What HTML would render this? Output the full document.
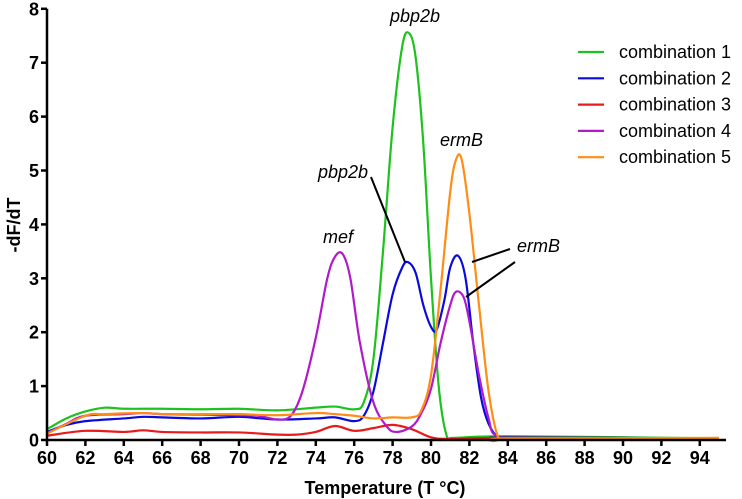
<!DOCTYPE html>
<html><head><meta charset="utf-8"><style>
html,body{margin:0;padding:0;background:#fff;}
svg{display:block;font-family:"Liberation Sans",Arial,sans-serif;}
</style></head><body>
<svg id="chart" width="742" height="499"></svg>
<script>
const xTicks=[60,62,64,66,68,70,72,74,76,78,80,82,84,86,88,90,92,94];
const yTicks=[0,1,2,3,4,5,6,7,8];
const seriesNames=["combination 1","combination 2","combination 3","combination 4","combination 5"];
const seriesColors=["#1ec21e","#0a0adc","#e81a1a","#b01ac8","#ff8c14"];
const t1=[60,61,62,63,64,66,68,70,72,74,75,76,76.5,77,77.5,78,78.5,78.85,79.2,79.6,80,80.4,80.8,81.2,84,95];
const v1=[0.2,0.4,0.53,0.6,0.58,0.58,0.57,0.58,0.55,0.6,0.62,0.57,0.7,1.5,3.5,5.8,7.3,7.55,7.1,5.5,3.0,1.0,0.1,0.04,0.07,0.03];
const t2=[60,61,62,64,65,66,68,70,72,74,75,76,76.5,77,77.5,78,78.5,78.8,79.2,79.6,80,80.3,80.7,81,81.4,81.8,82.2,82.6,83,83.5,84,95];
const v2=[0.15,0.28,0.35,0.4,0.43,0.42,0.4,0.43,0.38,0.4,0.42,0.35,0.45,0.9,1.8,2.7,3.2,3.3,3.1,2.5,2.1,2.05,2.6,3.2,3.42,3.0,1.8,0.8,0.3,0.05,0.05,0.03];
const t3=[60,62,64,65,66,68,70,72,73,74,75,76,77,78,79,80,81,84,95];
const v3=[0.08,0.17,0.15,0.18,0.15,0.14,0.14,0.1,0.1,0.15,0.26,0.17,0.22,0.28,0.2,0.05,0.02,0.04,0.03];
const t4=[60,61,62,64,65,66,68,70,71,72,72.7,73.3,74,74.6,75,75.4,75.8,76.3,77,77.7,78.2,79,79.5,80,80.5,81,81.3,81.7,82,82.5,83,83.4,85,95];
const v4=[0.12,0.3,0.45,0.48,0.5,0.48,0.47,0.46,0.45,0.38,0.45,0.9,1.9,3.0,3.4,3.45,3.0,1.8,0.7,0.25,0.15,0.25,0.5,0.95,1.8,2.5,2.75,2.65,2.2,1.2,0.4,0.08,0.02,0.03];
const t5=[60,62,63,65,66,68,70,72,74,75,76,77,78,79,79.5,80,80.5,81,81.3,81.6,82,82.5,83,83.5,84,95];
const v5=[0.12,0.45,0.48,0.5,0.48,0.48,0.48,0.46,0.5,0.48,0.45,0.4,0.42,0.42,0.55,1.2,2.8,4.6,5.2,5.2,4.2,2.5,0.9,0.05,0.03,0.04];
const seriesT=[t1,t2,t3,t4,t5];
const seriesV=[v1,v2,v3,v4,v5];

const NS="http://www.w3.org/2000/svg";
const svg=document.getElementById('chart');
const X0=47,Y0=440,PXT=19.2,PXV=53.9;
function sx(t){return X0+(t-60)*PXT;}
function sy(v){return Y0-v*PXV;}
function mk(tag,attrs,parent){const e=document.createElementNS(NS,tag);for(const k in attrs)e.setAttribute(k,attrs[k]);(parent||svg).appendChild(e);return e;}
function smooth(pts){let d="M"+pts[0][0]+","+pts[0][1];for(let i=0;i<pts.length-1;i++){const p0=pts[Math.max(0,i-1)],p1=pts[i],p2=pts[i+1],p3=pts[Math.min(pts.length-1,i+2)];const c1x=p1[0]+(p2[0]-p0[0])/6,c1y=p1[1]+(p2[1]-p0[1])/6,c2x=p2[0]-(p3[0]-p1[0])/6,c2y=p2[1]-(p3[1]-p1[1])/6;d+=" C"+c1x+","+c1y+" "+c2x+","+c2y+" "+p2[0]+","+p2[1];}return d;}

seriesT.forEach((ts,i)=>{
  const pts=ts.map((t,j)=>[sx(t),sy(seriesV[i][j])]);
  const p=mk('path',{d:smooth(pts),fill:'none',stroke:seriesColors[i],'stroke-width':2.2,'stroke-linejoin':'round'});
  
  
});
const ax=mk('path',{d:`M${X0},${sy(8)} V${Y0} H726`,fill:'none',stroke:'#000','stroke-width':2.5});


xTicks.forEach(t=>{
  mk('line',{x1:sx(t),x2:sx(t),y1:Y0,y2:Y0+6,stroke:'#000','stroke-width':2.5});
  const tx=mk('text',{x:sx(t),y:Y0+24,'text-anchor':'middle','font-size':18,'font-weight':'bold'});
  tx.textContent=t;
  
  
});
yTicks.forEach(v=>{
  mk('line',{x1:X0-6,x2:X0,y1:sy(v),y2:sy(v),stroke:'#000','stroke-width':2.5});
  const tx=mk('text',{x:X0-8,y:sy(v)+6.5,'text-anchor':'end','font-size':18,'font-weight':'bold'});
  tx.textContent=v;
  
  
});
const xt=mk('text',{x:385,y:494,'text-anchor':'middle','font-size':18,'font-weight':'bold'});
xt.textContent="Temperature (T °C)";


const yt=mk('text',{x:0,y:0,'text-anchor':'middle','font-size':18,'font-weight':'bold',transform:'translate(20,225) rotate(-90)'});
yt.textContent="-dF/dT";


seriesNames.forEach((n,i)=>{
  const y=52+i*26.3;
  const g=mk('g',{});
  
  
  mk('line',{x1:578,x2:604,y1:y,y2:y,stroke:seriesColors[i],'stroke-width':2.2},g);
  const tx=mk('text',{x:619,y:y+6,'font-size':18},g);
  tx.textContent=n;
});
const ann=[["pbp2b",390,22],["pbp2b",318,178],["mef",323,243],["ermB",440,146],["ermB",517,252]];
ann.forEach(a=>{
  const tx=mk('text',{x:a[1],y:a[2],'font-size':18,'font-style':'italic'});
  tx.textContent=a[0];
  
  
});
[[371,177,405,262],[510,249,472,262],[515,262,466,297]].forEach(l=>{
  const ln=mk('line',{x1:l[0],y1:l[1],x2:l[2],y2:l[3],stroke:'#000','stroke-width':2});
  
  
});
</script>
</body></html>
